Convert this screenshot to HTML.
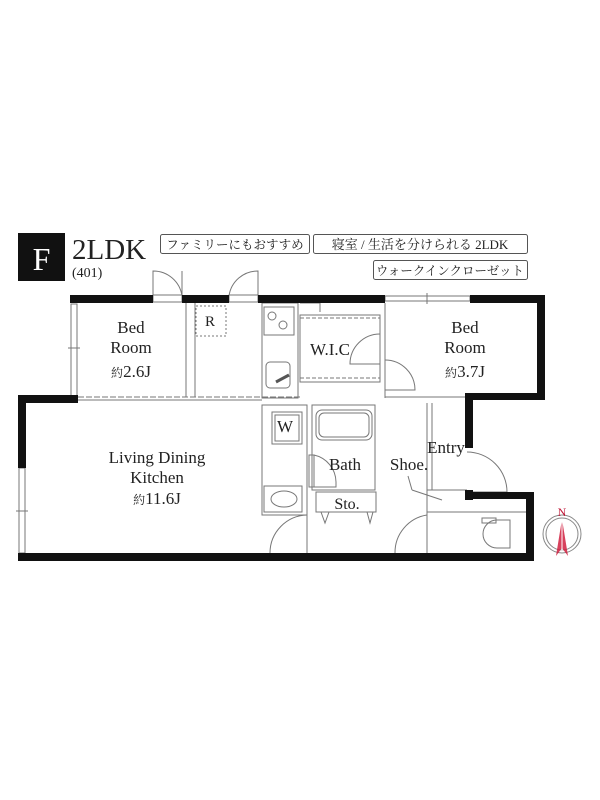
<!DOCTYPE html>
<html><head><meta charset="utf-8"><style>
html,body{margin:0;padding:0;background:#fff;}
svg{display:block;}
text{font-family:"Liberation Serif","Noto Serif CJK SC",serif;fill:#222;}
.j{font-family:"Liberation Serif","Noto Serif CJK SC",serif;}
</style></head><body>
<svg width="600" height="800" viewBox="0 0 600 800" xmlns="http://www.w3.org/2000/svg">
<rect width="600" height="800" fill="#fff"/>
<!-- header -->
<rect x="18" y="233" width="47" height="48" fill="#111"/>
<text x="41.5" y="270" font-size="32" text-anchor="middle" style="fill:#fff">F</text>
<text x="72" y="259" font-size="29">2LDK</text>
<text x="72" y="277" font-size="14">(401)</text>
<g fill="none" stroke="#555" stroke-width="1">
<rect x="160.5" y="234.5" width="149" height="19" rx="2"/>
<rect x="313.5" y="234.5" width="214" height="19" rx="2"/>
<rect x="373.5" y="260.5" width="154" height="19" rx="2"/>
</g>
<text x="235" y="249" font-size="12.5" text-anchor="middle">ファミリーにもおすすめ</text>
<text x="420" y="249" font-size="13" text-anchor="middle">寝室 / 生活を分けられる 2LDK</text>
<text x="450" y="275" font-size="12.5" text-anchor="middle">ウォークインクローゼット</text>

<!-- thin interior lines -->
<g fill="none" stroke="#777" stroke-width="1">
<!-- windows -->
<rect x="71" y="304" width="6" height="93"/><line x1="68" y1="348" x2="80" y2="348"/>
<rect x="19" y="468" width="6" height="85"/><line x1="16" y1="511" x2="28" y2="511"/>
<rect x="385" y="296" width="85" height="5"/><line x1="427" y1="293" x2="427" y2="304"/>
<rect x="153" y="295" width="29" height="7"/><rect x="229" y="295" width="29" height="7"/>
<!-- doors top -->
<path d="M153 296 V271 A29 29 0 0 1 182 296"/><line x1="182" y1="271" x2="182" y2="296"/>
<path d="M229 296 A29 29 0 0 1 258 271 V296"/><line x1="258" y1="271" x2="258" y2="296"/>
<!-- bedroom1 walls -->
<line x1="186" y1="303" x2="186" y2="397"/>
<line x1="195" y1="303" x2="195" y2="397"/>
<line x1="78" y1="397" x2="300" y2="397" stroke-dasharray="6 2"/>
<line x1="78" y1="400" x2="262" y2="400"/>
<rect x="196" y="306" width="30" height="30" stroke-dasharray="2 2"/>
<!-- kitchen -->
<rect x="262" y="303" width="36" height="95"/>
<rect x="264" y="307" width="30" height="28"/>
<circle cx="272" cy="316" r="4"/><circle cx="283" cy="325" r="4"/>
<rect x="266" y="362" width="24" height="26" rx="4"/>
<line x1="276" y1="382" x2="289" y2="375" stroke-width="3" stroke="#555"/>
<!-- WIC -->
<rect x="300" y="315" width="80" height="67"/>
<line x1="300" y1="318" x2="380" y2="318" stroke-dasharray="4 2"/>
<line x1="300" y1="378" x2="380" y2="378" stroke-dasharray="4 2"/>
<path d="M380 334 A30 30 0 0 0 350 364 H380"/>
<line x1="300" y1="303" x2="320" y2="303"/><line x1="320" y1="303" x2="320" y2="312"/>
<line x1="385" y1="303" x2="385" y2="398"/>
<path d="M385 360 A30 30 0 0 1 415 390 H385"/>
<line x1="385" y1="397" x2="467" y2="397"/>
<!-- W + laundry -->
<rect x="262" y="405" width="45" height="110"/>
<rect x="272" y="412" width="30" height="32"/><rect x="275" y="415" width="24" height="26"/>
<rect x="264" y="486" width="38" height="26"/>
<ellipse cx="284" cy="499" rx="13" ry="8"/>
<!-- bath -->
<rect x="312" y="405" width="63" height="85"/>
<rect x="316" y="410" width="56" height="30" rx="6"/><rect x="319" y="413" width="50" height="24" rx="5"/>
<rect x="309" y="455" width="5" height="32"/>
<path d="M314 455 A28 28 0 0 1 336 482 V487 H314"/>
<rect x="316" y="492" width="60" height="20"/>
<path d="M321 512 L325 523 L329 512 M367 512 L370 523 L373 512"/>
<line x1="307" y1="515" x2="307" y2="553"/>
<path d="M270 553 A38 38 0 0 1 307 515"/>
<!-- entry -->
<line x1="427" y1="403" x2="427" y2="553"/>
<line x1="432" y1="403" x2="432" y2="490"/>
<line x1="427" y1="490" x2="467" y2="490"/>
<line x1="427" y1="512" x2="526" y2="512"/>
<path d="M467 452 A40 40 0 0 1 507 492 H467"/>
<line x1="408" y1="476" x2="412" y2="490"/><line x1="412" y1="490" x2="442" y2="500"/>
<path d="M427 515 A38 38 0 0 0 395 553"/>
<rect x="482" y="518" width="14" height="5"/>
<path d="M497 520 H510 V548 H497 A14 14 0 0 1 497 520 Z"/>
</g>

<!-- thick outer walls -->
<g fill="#111">
<rect x="70" y="295" width="83" height="8"/>
<rect x="182" y="295" width="47" height="8"/>
<rect x="258" y="295" width="127" height="8"/>
<rect x="470" y="295" width="75" height="8"/>
<rect x="537" y="295" width="8" height="105"/>
<rect x="465" y="393" width="80" height="7"/>
<rect x="465" y="393" width="8" height="55"/>
<rect x="465" y="490" width="8" height="10"/>
<rect x="465" y="492" width="68" height="7"/>
<rect x="526" y="492" width="8" height="69"/>
<rect x="18" y="553" width="516" height="8"/>
<rect x="18" y="395" width="8" height="73"/>
<rect x="18" y="395" width="60" height="8"/>
</g>

<!-- labels -->
<g font-size="17" text-anchor="middle">
<text x="131" y="333">Bed</text><text x="131" y="353">Room</text>
<text x="131" y="377"><tspan font-size="12">約</tspan>2.6J</text>
<text x="210" y="326" font-size="15">R</text>
<text x="330" y="355">W.I.C</text>
<text x="465" y="333">Bed</text><text x="465" y="353">Room</text>
<text x="465" y="377"><tspan font-size="12">約</tspan>3.7J</text>
<text x="285" y="432">W</text>
<text x="157" y="463">Living Dining</text>
<text x="157" y="483">Kitchen</text>
<text x="157" y="504"><tspan font-size="12">約</tspan>11.6J</text>
<text x="345" y="470">Bath</text>
<text x="409" y="470">Shoe.</text>
<text x="446" y="453">Entry</text>
<text x="347" y="509" font-size="16">Sto.</text>
</g>
<!-- compass -->
<g fill="none" stroke="#888" stroke-width="1">
<circle cx="562" cy="534" r="19"/><circle cx="562" cy="534" r="16"/>
</g>
<path d="M562 519 L556 556 L562 548 L568 556 Z" fill="#d02040" opacity="0.85"/>
<line x1="562" y1="519" x2="562" y2="552" stroke="#fff" stroke-width="1"/>
<text x="562" y="516" font-size="12" text-anchor="middle" style="fill:#c01838">N</text>
</svg>
</body></html>
